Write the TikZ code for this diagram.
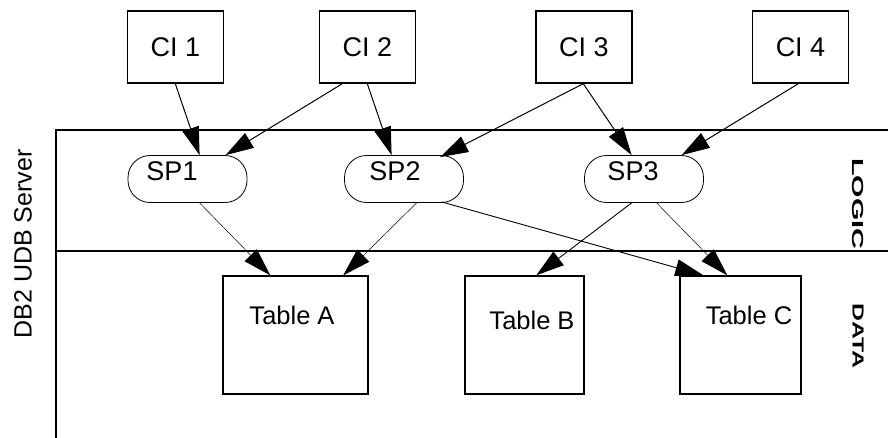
\documentclass[tikz,border=0pt]{standalone}
\usepackage{fontspec}
\setmainfont{Liberation Sans}
\usetikzlibrary{arrows.meta,calc}
\tikzset{
  cibox/.style={draw, line width=1.4pt, minimum width=96pt, minimum height=72pt, inner sep=0pt, font=\fontsize{27}{30}\selectfont},
  spbox/.style={draw, line width=0.8pt, rounded corners=22pt, minimum width=119pt, minimum height=47pt, inner sep=0pt},
  sptext/.style={inner sep=0pt, font=\fontsize{27}{30}\selectfont},
  tabbox/.style={draw, line width=1.4pt, minimum height=118pt, inner sep=0pt},
  tabtext/.style={inner sep=0pt, font=\fontsize{25.5}{30}\selectfont},
  frame/.style={line width=1.5pt},
  bigtip/.style={-{Triangle[length=28pt,width=17pt]}},
  callarrow/.style={bigtip, line width=1pt},
  midarrow/.style={bigtip, line width=0.9pt},
  thinarrow/.style={bigtip, line width=0.5pt},
  sidelabel/.style={inner sep=0pt, font=\fontsize{16}{18}\selectfont\bfseries, rotate=-90},
}
\begin{document}
\begin{tikzpicture}[x=1pt,y=-1pt]
\useasboundingbox (0,0) rectangle (888,438);
% frame lines
\draw[frame] (888,130) -- (56,130) -- (56,438);
\draw[frame] (56,251) -- (888,251);
% client boxes
\node[cibox] (ci1) at (175.5,47) {CI 1};
\node[cibox] (ci2) at (367.5,47) {CI 2};
\node[cibox] (ci3) at (584,47) {CI 3};
\node[cibox] (ci4) at (800.5,47) {CI 4};
% stored procedures
\node[spbox] (sp1) at (187.5,179) {};
\node[spbox] (sp2) at (404,179) {};
\node[spbox] (sp3) at (644,179) {};
\node[sptext] (sp1t) at (172,171) {SP1};
\node[sptext] (sp2t) at (395,171) {SP2};
\node[sptext] (sp3t) at (633,171) {SP3};
% tables
\node[tabbox, minimum width=145pt] (ta) at (295.5,335) {};
\node[tabbox, minimum width=119pt] (tb) at (524.5,335) {};
\node[tabbox, minimum width=121pt] (tc) at (740.5,335) {};
\node[tabtext] (tat) at (292,315) {Table A};
\node[tabtext] (tbt) at (532,320) {Table B};
\node[tabtext] (tct) at (749,315) {Table C};
% side labels
\node[inner sep=0pt, font=\fontsize{25}{30}\selectfont, rotate=90] (srv) at (23,244) {DB2 UDB Server};
\node[sidelabel] (logic) at (858,204) {\scalebox{1.8}[1]{LOGIC}};
\node[sidelabel] (data) at (858,336) {\scalebox{1.55}[1]{DATA}};
% client -> SP arrows
\draw[callarrow] ($(ci1.south west)+(48.5,0)$) -- ($(sp1.north west)+(72,0)$);
\draw[callarrow] ($(ci2.south west)+(23.5,0)$) -- ($(sp1.north west)+(98,0)$);
\draw[callarrow] ($(ci2.south west)+(48.5,0)$) -- ($(sp2.north west)+(47.5,0)$);
\draw[callarrow] ($(ci3.south west)+(48,0)$) -- ($(sp2.north west)+(96,2)$);
\draw[callarrow] ($(ci3.south west)+(48,0)$) -- ($(sp3.north west)+(47.5,0)$);
\draw[callarrow] ($(ci4.south west)+(46.5,0)$) -- ($(sp3.north west)+(97.5,0)$);
% SP -> table arrows
\draw[thinarrow] ($(sp1.south west)+(72,0)$) -- ($(ta.north west)+(48,0)$);
\draw[thinarrow] ($(sp2.south west)+(72.5,0)$) -- ($(ta.north west)+(121,0)$);
\draw[midarrow] ($(sp2.south west)+(97.5,-1)$) -- ($(tc.north west)+(24,0)$);
\draw[midarrow] ($(sp3.south west)+(47.5,0)$) -- ($(tb.north west)+(72,0)$);
\draw[thinarrow] ($(sp3.south west)+(72.5,0)$) -- ($(tc.north west)+(48,0)$);
\end{tikzpicture}
\end{document}
